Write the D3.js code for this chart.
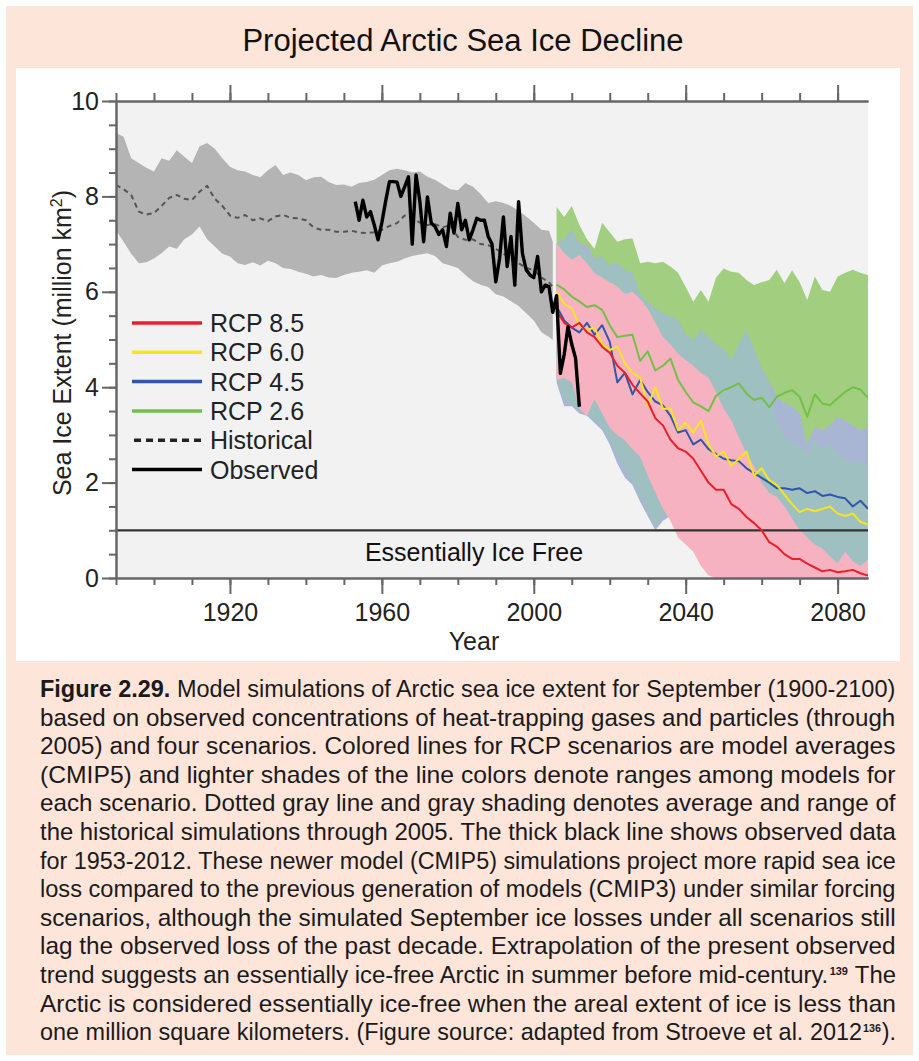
<!DOCTYPE html>
<html><head><meta charset="utf-8">
<script src="https://cdn.jsdelivr.net/npm/d3@7"></script>
<style>
html,body{margin:0;padding:0;background:#fff;}
svg{display:block;font-family:"Liberation Sans",Arial,Helvetica,sans-serif;}
</style></head><body>
<svg id="c" width="919" height="1061"></svg>
<script>
// ---------------- DATA ----------------
const histYears = [1890,1892,1894,1896,1898,1900,1902,1904,1906,1908,
  1910,1912,1914,1916,1918,1920,1922,1924,1926,1928,
  1930,1932,1934,1936,1938,1940,1942,1944,1946,1948,
  1950,1952,1954,1956,1958,1960,1962,1964,1966,1968,
  1970,1972,1974,1976,1978,1980,1982,1984,1986,1988,
  1990,1992,1994,1996,1998,2000,2002,2004,2005];
const histMean = [8.24,8.15,8.03,7.68,7.62,7.65,7.80,7.97,8.03,7.95,
  7.92,8.10,8.22,7.95,7.80,7.60,7.55,7.61,7.50,7.54,
  7.48,7.58,7.61,7.55,7.54,7.50,7.35,7.30,7.30,7.26,
  7.26,7.28,7.24,7.23,7.25,7.30,7.38,7.44,7.60,7.55,
  7.45,7.40,7.42,7.35,7.40,7.15,7.09,7.10,7.00,6.98,
  6.90,6.80,6.70,6.60,6.50,6.45,6.30,6.20,6.10];
const histHigh = [9.33,9.25,8.80,8.70,8.60,8.52,8.80,8.75,8.97,8.83,
  8.70,9.05,9.12,9.00,8.80,8.62,8.55,8.52,8.45,8.40,
  8.55,8.66,8.45,8.50,8.45,8.34,8.40,8.41,8.30,8.24,
  8.25,8.20,8.28,8.30,8.35,8.45,8.55,8.58,8.55,8.50,
  8.52,8.41,8.35,8.25,8.15,8.13,8.28,8.20,8.05,7.86,
  7.90,7.86,7.80,7.70,7.58,7.45,7.30,7.28,7.05];
const histLow = [7.29,7.05,6.80,6.60,6.62,6.70,6.81,6.95,6.90,7.10,
  7.20,7.37,7.10,6.95,6.80,6.74,6.60,6.56,6.62,6.55,
  6.65,6.60,6.50,6.48,6.42,6.38,6.32,6.35,6.30,6.29,
  6.35,6.40,6.42,6.45,6.40,6.55,6.60,6.63,6.70,6.75,
  6.78,6.81,6.75,6.60,6.55,6.50,6.35,6.22,6.15,6.10,
  5.95,5.90,5.80,5.70,5.55,5.40,5.15,5.05,4.99];

const obsYears = [1953,1954,1955,1956,1957,1958,1959,1960,1961,1962,
  1963,1964,1965,1966,1967,1968,1969,1970,1971,1972,
  1973,1974,1975,1976,1977,1978,1979,1980,1981,1982,
  1983,1984,1985,1986,1987,1988,1989,1990,1991,1992,
  1993,1994,1995,1996,1997,1998,1999,2000,2001,2002,
  2003,2004,2005,2006,2007,2008,2009,2010,2011,2012];
const observed = [7.89,7.50,7.92,7.57,7.68,7.40,7.09,7.45,7.90,8.31,
  8.31,8.30,8.00,8.20,8.41,7.00,8.45,7.90,7.05,7.99,
  7.44,7.37,7.20,7.30,6.95,7.65,7.23,7.85,7.30,7.50,
  7.09,7.30,7.54,7.50,7.50,7.16,7.00,6.21,6.70,7.57,
  6.53,7.16,6.14,7.89,6.81,6.46,6.35,6.30,6.74,6.00,
  6.14,6.11,5.57,5.92,4.29,4.68,5.27,4.90,4.61,3.59];

const rcpYears = [2006,2008,2010,2012,2014,2016,2018,2020,2022,2024,
  2026,2028,2030,2032,2034,2036,2038,2040,2042,2044,
  2046,2048,2050,2052,2054,2056,2058,2060,2062,2064,
  2066,2068,2070,2072,2074,2076,2078,2080,2082,2084,
  2086,2088];
const rcp85 = [5.60,5.35,5.25,5.35,5.15,5.05,4.85,4.72,4.45,4.30,
  4.05,3.87,3.70,3.35,3.20,2.90,2.72,2.65,2.50,2.25,
  2.00,1.85,1.85,1.55,1.45,1.28,1.15,1.00,0.75,0.66,
  0.50,0.40,0.40,0.30,0.22,0.14,0.17,0.12,0.14,0.17,
  0.10,0.05];
const rcp60 = [6.00,5.75,5.65,5.30,5.20,5.25,4.90,4.78,4.85,4.50,
  4.30,4.20,3.60,4.00,3.55,3.55,3.10,3.25,3.05,3.30,
  2.80,2.55,2.65,2.35,2.50,2.65,2.15,2.30,2.05,1.95,
  1.75,1.55,1.38,1.45,1.40,1.45,1.50,1.35,1.30,1.35,
  1.18,1.12];
const rcp45 = [5.70,5.40,5.25,5.15,5.35,5.10,5.30,4.95,4.10,4.30,
  3.85,4.15,3.90,3.70,3.62,3.40,3.05,3.10,2.80,2.90,
  2.70,2.60,2.50,2.47,2.45,2.30,2.20,2.10,2.00,1.88,
  1.88,1.85,1.88,1.78,1.82,1.72,1.75,1.70,1.67,1.50,
  1.62,1.45];
const rcp26 = [6.15,6.05,5.90,5.80,5.68,5.72,5.62,5.30,5.05,5.08,
  5.10,4.55,4.75,4.35,4.45,4.60,4.15,3.90,3.68,3.60,
  3.50,3.82,3.94,4.00,4.08,3.87,3.73,3.78,3.58,3.80,
  3.88,3.94,3.80,3.38,3.85,3.66,3.62,3.77,3.90,4.00,
  3.95,3.78];

const rcp26High = [7.78,7.57,7.80,7.40,7.10,6.90,7.45,7.25,7.05,7.10,
  7.12,6.60,6.63,6.60,6.63,6.53,6.40,6.10,5.79,6.04,
  5.79,6.30,6.49,6.42,6.40,6.25,6.14,6.20,6.25,6.46,
  6.18,6.45,6.20,5.83,6.32,6.04,6.00,6.32,6.40,6.46,
  6.40,6.35];
const rcp26Low = [4.60,4.50,4.40,4.30,4.20,4.10,4.00,3.80,3.60,3.50,
  3.40,3.20,3.00,2.90,2.80,2.70,2.50,2.40,2.30,2.20,
  2.10,2.20,2.30,2.30,2.40,2.30,2.20,2.20,2.10,2.10,
  2.20,2.20,2.10,2.00,2.10,2.00,2.00,2.10,2.10,2.20,
  2.20,2.10];
const rcp45High = [7.00,7.10,7.30,7.00,6.98,6.70,6.74,6.55,6.60,6.46,
  6.40,5.95,5.78,5.65,5.55,5.48,5.42,5.10,5.00,5.20,
  5.06,4.90,4.80,4.57,4.90,5.20,4.78,4.40,4.10,3.80,
  3.66,3.60,3.45,2.80,3.17,3.10,3.20,3.38,3.30,3.20,
  3.10,3.17];
const rcp45Low = [4.10,3.60,3.60,3.45,3.40,3.25,3.10,2.80,2.40,2.10,
  1.95,1.60,1.30,1.00,1.20,1.30,0.95,0.80,0.65,0.35,
  0.15,0,0,0,0,0,0,0,0,0,
  0,0,0,0,0,0,0,0,0,0,
  0,0];
const rcp60High = [7.00,7.05,7.25,6.95,6.80,6.67,6.74,6.53,6.58,6.45,
  6.39,5.95,5.76,5.62,5.52,5.48,5.41,5.05,4.99,5.18,
  5.06,4.90,4.78,4.57,4.88,5.18,4.78,4.35,4.00,3.30,
  2.95,2.85,2.75,2.60,2.90,2.70,2.80,2.60,2.50,2.40,
  2.45,2.30];
const rcp60Low = [4.20,3.75,3.65,3.50,3.45,3.30,3.20,2.90,2.60,2.26,
  2.05,1.75,1.42,1.08,1.30,1.30,0.95,0.80,0.65,0.35,
  0.15,0,0,0,0,0,0,0,0,0,
  0,0,0,0,0,0,0,0,0,0,
  0,0];
const rcp85High = [7.02,6.81,6.67,6.77,6.60,6.39,6.30,6.20,6.11,5.95,
  6.00,5.85,5.65,5.35,5.05,4.90,4.70,4.57,4.45,4.30,
  4.20,3.90,3.55,3.30,2.95,2.60,2.35,2.00,1.78,1.70,
  1.50,1.25,1.01,0.85,0.70,0.62,0.45,0.31,0.55,0.35,
  0.25,0.38];
const rcp85Low = [4.15,4.20,4.10,3.55,3.40,3.75,3.45,3.15,3.00,2.89,
  2.70,2.54,2.15,1.80,1.45,1.20,0.85,0.70,0.55,0.25,
  0.05,0,0,0,0,0,0,0,0,0,
  0,0,0,0,0,0,0,0,0,0,
  0,0];

const xTickLabels = [1920,1960,2000,2040,2080];
const xMinorTicks = [1890,1900,1910,1920,1930,1940,1950,1960,1970,1980,1990,2000,2010,2020,2030,2040,2050,2060,2070,2080];
const yTickLabels = [0,2,4,6,8,10];
const yMinorTicks = [0,0.5,1,1.5,2,2.5,3,3.5,4,4.5,5,5.5,6,6.5,7,7.5,8,8.5,9,9.5,10];
const iceFreeLevel = 1;

const legendItems = [
  {name:"RCP 8.5", color:"#e8202a", dash:null},
  {name:"RCP 6.0", color:"#f6e51f", dash:null},
  {name:"RCP 4.5", color:"#2f56a8", dash:null},
  {name:"RCP 2.6", color:"#72c045", dash:null},
  {name:"Historical", color:"#222", dash:"7,5"},
  {name:"Observed", color:"#000", dash:null}
];

const titleText = "Projected Arctic Sea Ice Decline";
const captionLines = [
  [["Figure 2.29.","b"],[" Model simulations of Arctic sea ice extent for September (1900-2100)",""]],
  [["based on observed concentrations of heat-trapping gases and particles (through",""]],
  [["2005) and four scenarios. Colored lines for RCP scenarios are model averages",""]],
  [["(CMIP5) and lighter shades of the line colors denote ranges among models for",""]],
  [["each scenario. Dotted gray line and gray shading denotes average and range of",""]],
  [["the historical simulations through 2005. The thick black line shows observed data",""]],
  [["for 1953-2012. These newer model (CMIP5) simulations project more rapid sea ice",""]],
  [["loss compared to the previous generation of models (CMIP3) under similar forcing",""]],
  [["scenarios, although the simulated September ice losses under all scenarios still",""]],
  [["lag the observed loss of the past decade. Extrapolation of the present observed",""]],
  [["trend suggests an essentially ice-free Arctic in summer before mid-century.",""],["139","sup"],[" The",""]],
  [["Arctic is considered essentially ice-free when the areal extent of ice is less than",""]],
  [["one million square kilometers. (Figure source: adapted from Stroeve et al. 2012",""],["136","sup"],[").",""]]
];

// ---------------- DRAW ----------------
const svg = d3.select('#c');
svg.append('rect').attr('x',6).attr('y',6).attr('width',907).attr('height',1049).attr('fill','#fde5da');
svg.append('rect').attr('x',16).attr('y',68).attr('width',884).attr('height',593).attr('fill','#ffffff');

svg.append('text').attr('x',463).attr('y',51).attr('text-anchor','middle')
  .attr('font-size',31).attr('fill','#111').text(titleText);

const x = d3.scaleLinear().domain([1890,2088]).range([116,868]);
const y = d3.scaleLinear().domain([0,10]).range([578,101]);

svg.append('rect').attr('x',x(1890)).attr('y',y(10)).attr('width',x(2088)-x(1890)).attr('height',y(0)-y(10)).attr('fill','#f2f2f2');

svg.append('clipPath').attr('id','pc').append('rect')
  .attr('x',x(1890)).attr('y',y(10)).attr('width',x(2088)-x(1890)).attr('height',y(0)-y(10));
const g = svg.append('g').attr('clip-path','url(#pc)');

function band(years, lo, hi, fill){
  const d = years.map((yr,i)=>({yr, lo:lo[i], hi:hi[i]}));
  g.append('path').datum(d)
    .attr('d', d3.area().x(p=>x(p.yr)).y0(p=>y(p.lo)).y1(p=>y(p.hi)))
    .attr('fill', fill).attr('stroke','none');
}
function line(years, vals, color, w, dash){
  const d = years.map((yr,i)=>({yr, v:vals[i]}));
  const p = g.append('path').datum(d)
    .attr('d', d3.line().x(p=>x(p.yr)).y(p=>y(p.v)))
    .attr('fill','none').attr('stroke',color).attr('stroke-width',w)
    .attr('stroke-linejoin','round');
  if(dash) p.attr('stroke-dasharray',dash);
}

band(histYears, histLow, histHigh, '#b4b4b4');
band(rcpYears, rcp26Low, rcp26High, '#a2ce80');
band(rcpYears, rcp45Low, rcp45High, '#a9b6d3');
band(rcpYears, rcp60Low, rcp60High, '#9fc0c1');
band(rcpYears, rcp85Low, rcp85High, '#f7b2c1');

g.append('line').attr('x1',x(1890)).attr('x2',x(2088)).attr('y1',y(iceFreeLevel)).attr('y2',y(iceFreeLevel))
  .attr('stroke','#333').attr('stroke-width',2.2);

line(histYears, histMean, '#555', 2, '5,4');
line(rcpYears, rcp26, '#72c045', 2);
line(rcpYears, rcp45, '#2f56a8', 2);
line(rcpYears, rcp60, '#f6e51f', 2);
line(rcpYears, rcp85, '#e8202a', 2);
line(obsYears, observed, '#000', 3.4);

svg.append('text').attr('x',474).attr('y',561).attr('text-anchor','middle')
  .attr('font-size',25).attr('fill','#111').text('Essentially Ice Free');

// axes
const axColor = '#666';
function styleAxis(sel){
  sel.selectAll('path.domain').attr('stroke',axColor).attr('stroke-width',2);
  sel.selectAll('.tick line').attr('stroke',axColor).attr('stroke-width',2);
  sel.selectAll('text').attr('font-size',25).attr('fill','#222')
    .attr('font-family','"Liberation Sans",Arial,sans-serif');
}
styleAxis(svg.append('g').attr('transform',`translate(${x(1890)},0)`)
  .call(d3.axisLeft(y).tickValues(yMinorTicks).tickSize(7).tickFormat('').tickSizeOuter(0)));
styleAxis(svg.append('g').attr('transform',`translate(${x(1890)},0)`)
  .call(d3.axisLeft(y).tickValues(yTickLabels).tickSize(14).tickPadding(3).tickFormat(d3.format('d')).tickSizeOuter(0)));
styleAxis(svg.append('g').attr('transform',`translate(0,${y(10)})`)
  .call(d3.axisTop(x).tickValues(xMinorTicks).tickSize(8).tickFormat('').tickSizeOuter(0)));
styleAxis(svg.append('g').attr('transform',`translate(0,${y(10)})`)
  .call(d3.axisTop(x).tickValues(xTickLabels).tickSize(16).tickFormat('').tickSizeOuter(0)));
styleAxis(svg.append('g').attr('transform',`translate(0,${y(0)})`)
  .call(d3.axisBottom(x).tickValues(xMinorTicks).tickSize(7).tickFormat('').tickSizeOuter(0)));
styleAxis(svg.append('g').attr('transform',`translate(0,${y(0)})`)
  .call(d3.axisBottom(x).tickValues(xTickLabels).tickSize(16).tickPadding(9).tickFormat(d3.format('d')).tickSizeOuter(0)));

svg.append('text').attr('x',474).attr('y',650).attr('text-anchor','middle')
  .attr('font-size',25).attr('fill','#222').text('Year');
const yl = svg.append('text').attr('transform','translate(71,343) rotate(-90)').attr('text-anchor','middle')
  .attr('font-size',25).attr('fill','#222');
yl.append('tspan').text('Sea Ice Extent (million km');
yl.append('tspan').attr('dy',-9).attr('font-size',16).text('2');
yl.append('tspan').attr('dy',9).text(')');

// legend
const lg = svg.append('g');
legendItems.forEach((it,i)=>{
  const cy = 323 + i*29.3;
  const l = lg.append('line').attr('x1',132).attr('x2',202).attr('y1',cy).attr('y2',cy)
    .attr('stroke',it.color).attr('stroke-width',3.5);
  if(it.dash) l.attr('stroke-dasharray',it.dash).attr('x1',134);
  lg.append('text').attr('x',210).attr('y',cy+9).attr('font-size',25).attr('fill','#222').text(it.name);
});

// caption: each line laid out at natural width and horizontally scaled to fill 40..896
const capFont = '"Liberation Sans Narrow","Arial Narrow","Liberation Sans",Arial,sans-serif';
const cap = svg.append('g').attr('font-family', capFont).attr('fill','#1a1a1a');
const GAP = '\u00a0\u00a0\u00a0';
const CAP_W = 856, CAP_X = 40;
captionLines.forEach((segs,i)=>{
  const by = 697 + i*28.6;
  const m = cap.append('text').attr('x',0).attr('y',0).attr('font-size',24);
  let idx = 0;
  const parts = [];
  segs.forEach(([s,st])=>{
    const str = st==='sup' ? GAP : s;
    const ts = m.append('tspan').text(str);
    if(st==='b') ts.attr('font-weight','bold');
    parts.push({s, st, start: idx, end: idx + str.length});
    idx += str.length;
  });
  const W = m.node().getComputedTextLength();
  const K = CAP_W / W;
  if(!segs.some(s=>s[1]==='sup')){
    m.attr('transform', `translate(${CAP_X},${by}) scale(${K},1)`);
    return;
  }
  const node = m.node();
  const pieces = parts.map(p=>{
    if(p.st==='sup') return {sup:true, s:p.s, off: node.getStartPositionOfChar(p.start).x};
    let a = p.start; while(p.s[a-p.start]===' ') a++;
    return {sup:false, s:p.s.trim(), off: node.getStartPositionOfChar(a).x};
  });
  m.remove();
  pieces.forEach(pc=>{
    if(pc.sup){
      cap.append('text').attr('transform', `translate(${CAP_X + K*pc.off + 1},${by-8}) scale(${K},1)`)
        .attr('font-size',11).attr('font-weight','bold').text(pc.s);
    } else {
      cap.append('text').attr('transform', `translate(${CAP_X + K*pc.off},${by}) scale(${K},1)`)
        .attr('font-size',24).text(pc.s);
    }
  });
});
</script>
</body></html>
